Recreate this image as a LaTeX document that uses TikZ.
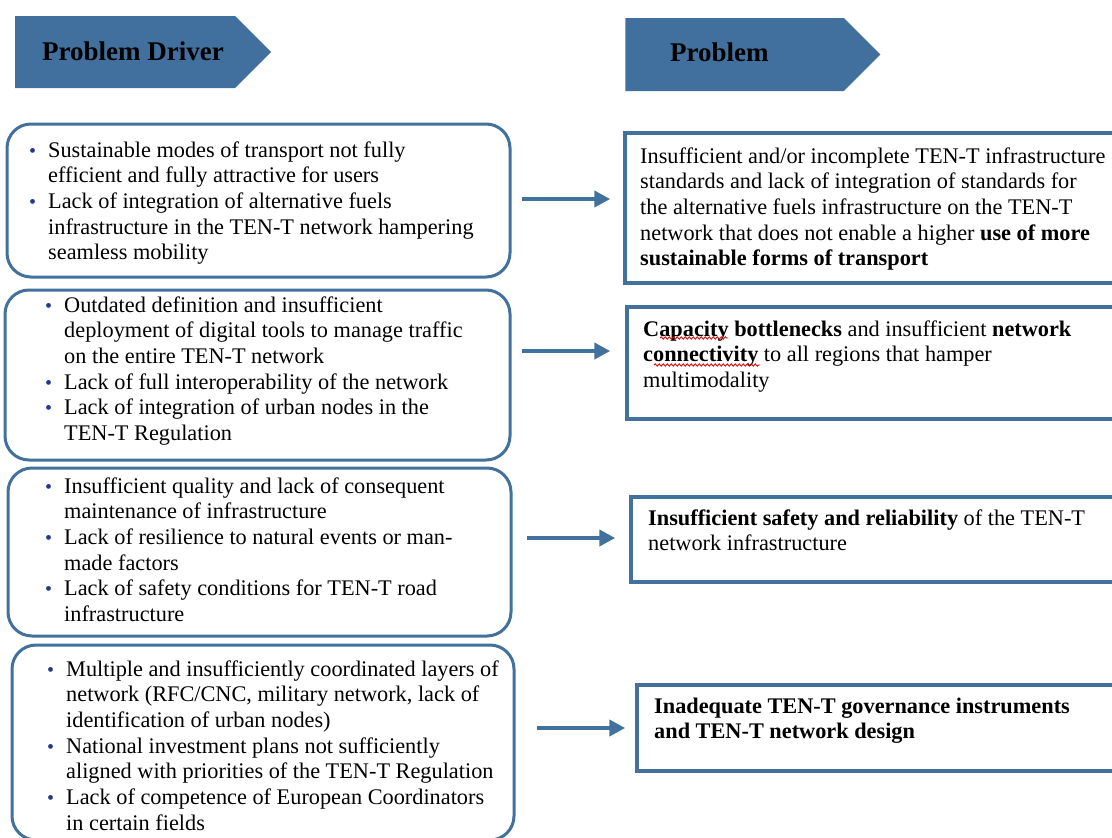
\documentclass[tikz,border=0pt]{standalone}
\usepackage{fontspec}
\setmainfont{Liberation Serif}
\usetikzlibrary{shapes.symbols,arrows.meta,decorations.pathmorphing}
\definecolor{hdrblue}{RGB}{65,112,158}
\definecolor{lineblue}{RGB}{65,113,156}
\definecolor{bulblue}{RGB}{35,55,140}
\newcommand{\bul}{\makebox[19pt][l]{\raisebox{0pt}{\textcolor{bulblue}{\fontsize{20}{20}\selectfont\textbullet}}}}
\tikzset{
  hdr/.style={shape=signal,signal to=east,signal pointer angle=90,fill=hdrblue,inner sep=0pt},
  hdrtext/.style={font=\fontsize{27}{30}\selectfont\bfseries,anchor=west,inner sep=0pt},
  drvbox/.style={draw=lineblue,line width=3pt,rounded corners=24pt,fill=white},
  prbbox/.style={draw=lineblue,line width=3.5pt,fill=white},
  txt/.style={font=\fontsize{22.3}{25.7}\selectfont,anchor=north west,inner sep=0pt},
  flow/.style={draw=lineblue,line width=4pt,-{Triangle[length=16pt,width=16pt]}},
  spell/.style={draw=red!85!black,line width=0.8pt,decorate,decoration={snake,amplitude=1.2pt,segment length=4pt}}
}
\begin{document}
\begin{tikzpicture}[x=1pt,y=-1pt]
  \clip (0,0) rectangle (1112,838);
  \node[hdr,minimum width=256pt,minimum height=72pt] (drv) at (125,52) {};
  \node[hdrtext] (drvt) at (42,51) {Problem Driver};
  \node[hdr,minimum width=255pt,minimum height=73pt] (prb) at (734.5,54.5) {};
  \node[hdrtext] (prbt) at (670,52) {Problem};

  \node[drvbox,minimum width=503pt,minimum height=153pt] (d1) at (258.5,200.5) {};
  \node[drvbox,minimum width=505pt,minimum height=170pt] (d2) at (257.5,375) {};
  \node[drvbox,minimum width=503pt,minimum height=168pt] (d3) at (259.5,552) {};
  \node[drvbox,minimum width=502pt,minimum height=195pt] (d4) at (263,742.5) {};

  \node[prbbox,minimum width=520pt,minimum height=150pt] (p1) at (885,208) {};
  \node[prbbox,minimum width=520pt,minimum height=112pt] (p2) at (887,363) {};
  \node[prbbox,minimum width=520pt,minimum height=85pt] (p3) at (891,539.5) {};
  \node[prbbox,minimum width=520pt,minimum height=86pt] (p4) at (897,728) {};

  \node[txt] (d1t) at (29,139) {\begin{tabular}{@{}l@{}l@{}}
    \bul & Sustainable modes of transport not fully\\
    & efficient and fully attractive for users\\
    \bul & Lack of integration of alternative fuels\\
    & infrastructure in the TEN-T network hampering\\
    & seamless mobility
  \end{tabular}};
  \node[txt] (d2t) at (45,294) {\begin{tabular}{@{}l@{}l@{}}
    \bul & Outdated definition and insufficient\\
    & deployment of digital tools to manage traffic\\
    & on the entire TEN-T network\\
    \bul & Lack of full interoperability of the network\\
    \bul & Lack of integration of urban nodes in the\\
    & TEN-T Regulation
  \end{tabular}};
  \node[txt] (d3t) at (45,475) {\begin{tabular}{@{}l@{}l@{}}
    \bul & Insufficient quality and lack of consequent\\
    & maintenance of infrastructure\\
    \bul & Lack of resilience to natural events or man-\\
    & made factors\\
    \bul & Lack of safety conditions for TEN-T road\\
    & infrastructure
  \end{tabular}};
  \node[txt] (d4t) at (47,658) {\begin{tabular}{@{}l@{}l@{}}
    \bul & Multiple and insufficiently coordinated layers of\\
    & network (RFC/CNC, military network, lack of\\
    & identification of urban nodes)\\
    \bul & National investment plans not sufficiently\\
    & aligned with priorities of the TEN-T Regulation\\
    \bul & Lack of competence of European Coordinators\\
    & in certain fields
  \end{tabular}};

  \node[txt] (p1t) at (640,145) {\begin{tabular}{@{}l@{}}
    Insufficient and/or incomplete TEN-T infrastructure\\
    standards and lack of integration of standards for\\
    the alternative fuels infrastructure on the TEN-T\\
    network that does not enable a higher \textbf{use of more}\\
    \textbf{sustainable forms of transport}
  \end{tabular}};
  \node[txt] (p2t) at (643,318) {\begin{tabular}{@{}l@{}}
    \textbf{Capacity bottlenecks} and insufficient \textbf{network}\\
    \textbf{connectivity} to all regions that hamper\\
    multimodality
  \end{tabular}};
  \node[txt] (p3t) at (648,507) {\begin{tabular}{@{}l@{}}
    \textbf{Insufficient safety and reliability} of the TEN-T\\
    network infrastructure
  \end{tabular}};
  \node[txt] (p4t) at (654,695) {\begin{tabular}{@{}l@{}}
    \textbf{Inadequate TEN-T governance instruments}\\
    \textbf{and TEN-T network design}
  \end{tabular}};
  \draw[spell] (660,338) -- (728,338);
  \draw[spell] (654,365) -- (760,365);

  \coordinate (a1) at (522,199);
  \coordinate (a2) at (522,351);
  \coordinate (a3) at (527,538);
  \coordinate (a4) at (537,728);
  \draw[flow] (a1) -- ([xshift=-13pt]a1 -| p1.west);
  \draw[flow] (a2) -- ([xshift=-15pt]a2 -| p2.west);
  \draw[flow] (a3) -- ([xshift=-14pt]a3 -| p3.west);
  \draw[flow] (a4) -- ([xshift=-10pt]a4 -| p4.west);
\end{tikzpicture}
\end{document}
